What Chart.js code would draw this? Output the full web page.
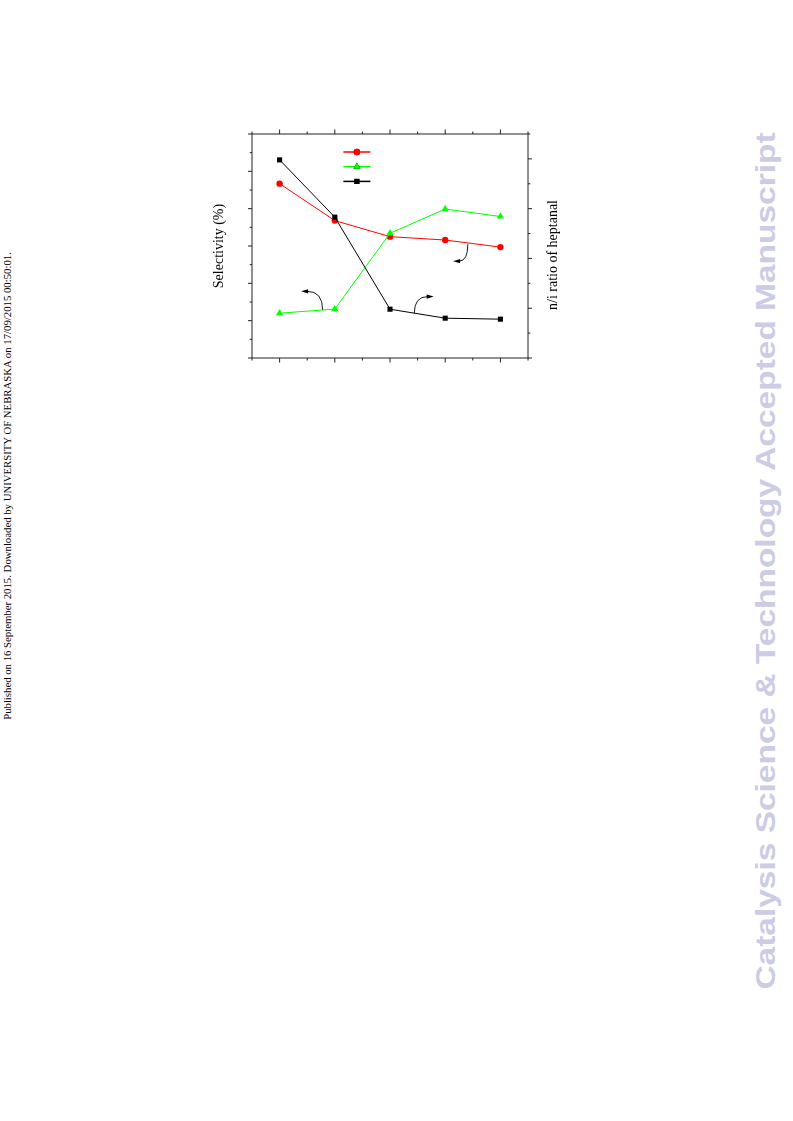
<!DOCTYPE html>
<html>
<head>
<meta charset="utf-8">
<script src="https://cdn.jsdelivr.net/npm/chart.js@4/dist/chart.umd.min.js"></script>
<style>
  body { margin: 0; width: 793px; height: 1121px; background: #fff; position: relative; overflow: hidden; }
  #wrap { position: absolute; left: 200px; top: 100px; width: 400px; height: 300px; }
  .side { position: absolute; white-space: nowrap; transform-origin: center center; }
  #pub { font-family: "Liberation Serif", serif; font-size: 11px; color: #000; }
  #mark { font-family: "Liberation Sans", Arial, sans-serif; font-weight: bold; font-size: 28px; color: rgb(204,204,228); }
</style>
</head>
<body>
<div id="pub" class="side">Published on 16 September 2015. Downloaded by UNIVERSITY OF NEBRASKA on 17/09/2015 00:50:01.</div>
<div id="mark" class="side">Catalysis Science &amp; Technology Accepted Manuscript</div>
<div id="wrap"><canvas id="chart" width="400" height="300"></canvas></div>
<script>
// data (no tick labels are printed in the original)
const categories = ['1', '2', '3', '4', '5'];
const redSelectivity = [46.7, 36.8, 32.5, 31.6, 29.7];
const greenSelectivity = [12.0, 13.1, 33.4, 39.9, 37.9];
const niRatio = [4.98, 3.83, 1.98, 1.80, 1.78];

// axis ranges
const leftRange = { min: 0, max: 60, step: 5, major: 10 };
const rightRange = { min: 1, max: 5.5, step: 0.5, major: 1 };

// curved arrows pointing at the axis a series belongs to (anchored in data space)
const arrows = [
  { scale: 'y', x: 0.78, y: 12.9, dx: -19.5, dy: -18.5 },
  { scale: 'y', x: 3.41, y: 30.5, dx: -12.7, dy: 17 },
  { scale: 'y1', x: 2.44, y: 1.90, dx: 17.4, dy: -16.6 }
];

function placeSide(id, cx, cy, scaleX) {
  const el = document.getElementById(id);
  const w = el.offsetWidth, h = el.offsetHeight;
  el.style.left = (cx - w / 2) + 'px';
  el.style.top = (cy - h / 2) + 'px';
  el.style.transform = 'rotate(-90deg) scaleX(' + scaleX + ')';
}
placeSide('pub', 7, 486, 0.977);
placeSide('mark', 765, 561, 1.195);

const framePlugin = {
  id: 'frame',
  afterDraw(chart) {
    const { ctx, chartArea: a, scales } = chart;
    ctx.save();
    ctx.strokeStyle = '#222';
    ctx.lineWidth = 1;
    ctx.strokeRect(a.left, a.top, a.right - a.left, a.bottom - a.top);

    ctx.beginPath();
    // x ticks, bottom and top, pointing out
    for (let v = -0.5; v <= categories.length - 0.5 + 1e-9; v += 0.5) {
      const px = scales.x.getPixelForValue(v);
      const len = Number.isInteger(v) ? 4.5 : 2.5;
      ctx.moveTo(px, a.bottom); ctx.lineTo(px, a.bottom + len);
      ctx.moveTo(px, a.top); ctx.lineTo(px, a.top - len);
    }
    for (let v = leftRange.min; v <= leftRange.max + 1e-9; v += leftRange.step) {
      const py = scales.y.getPixelForValue(v);
      const len = v % leftRange.major === 0 ? 4 : 2.3;
      ctx.moveTo(a.left, py); ctx.lineTo(a.left - len, py);
    }
    for (let v = rightRange.min; v <= rightRange.max + 1e-9; v += rightRange.step) {
      const py = scales.y1.getPixelForValue(v);
      const len = Number.isInteger(v) ? 4 : 2.3;
      ctx.moveTo(a.right, py); ctx.lineTo(a.right + len, py);
    }
    ctx.stroke();

    // right axis title, reading bottom to top
    ctx.fillStyle = '#000';
    ctx.font = '14px "Liberation Serif"';
    ctx.textAlign = 'center';
    ctx.textBaseline = 'middle';
    ctx.translate(a.right + 25, (a.top + a.bottom) / 2 + 9);
    ctx.rotate(-Math.PI / 2);
    ctx.fillText('n/i ratio of heptanal', 0, 0);
    ctx.restore();

    // arrows
    ctx.save();
    ctx.strokeStyle = '#000';
    ctx.fillStyle = '#000';
    ctx.lineWidth = 0.9;
    arrows.forEach(ar => {
      const sx = scales.x.getPixelForValue(ar.x);
      const sy = scales[ar.scale].getPixelForValue(ar.y);
      const ex = sx + ar.dx, ey = sy + ar.dy;
      const dir = Math.sign(ar.dx);
      ctx.beginPath();
      ctx.moveTo(sx, sy);
      ctx.quadraticCurveTo(sx, ey, ex - dir * 4, ey);
      ctx.stroke();
      ctx.beginPath();
      ctx.moveTo(ex + dir * 2, ey);
      ctx.lineTo(ex - dir * 5, ey - 2.2);
      ctx.lineTo(ex - dir * 5, ey + 2.2);
      ctx.closePath();
      ctx.fill();
    });
    ctx.restore();

    // legend samples (no text in the original)
    const legend = [
      { color: '#ff0000', style: 'circle', r: 3.2 },
      { color: '#00ff00', style: 'triangle', r: 4.2 },
      { color: '#000000', style: 'rect', r: 3.6 }
    ];
    const lx = scales.x.getPixelForValue(1.4);
    legend.forEach((it, i) => {
      const ly = a.top + 18 + i * 14.7;
      ctx.save();
      ctx.strokeStyle = it.color;
      ctx.lineWidth = 1.5;
      ctx.beginPath();
      ctx.moveTo(lx - 13.5, ly); ctx.lineTo(lx + 13.5, ly);
      ctx.stroke();
      Chart.helpers.drawPoint(ctx, { pointStyle: it.style, radius: it.r, borderWidth: 0 }, lx, ly);
      ctx.fillStyle = it.color;
      ctx.fill();
      ctx.restore();
    });
  }
};

const ctx = document.getElementById('chart').getContext('2d');
new Chart(ctx, {
  type: 'line',
  data: {
    labels: categories,
    datasets: [
      {
        label: 'n/i',
        data: niRatio,
        yAxisID: 'y1',
        borderColor: '#000',
        backgroundColor: '#000',
        borderWidth: 1,
        pointStyle: 'rect',
        pointRadius: 3.6,
        pointBorderWidth: 0
      },
      {
        label: 'green',
        data: greenSelectivity,
        yAxisID: 'y',
        borderColor: '#00ff00',
        backgroundColor: '#00ff00',
        borderWidth: 1,
        pointStyle: 'triangle',
        pointRadius: 4.2,
        pointBorderWidth: 0
      },
      {
        label: 'red',
        data: redSelectivity,
        yAxisID: 'y',
        borderColor: '#ff0000',
        backgroundColor: '#ff0000',
        borderWidth: 1,
        pointStyle: 'circle',
        pointRadius: 3.2,
        pointBorderWidth: 0
      }
    ]
  },
  options: {
    responsive: false,
    animation: false,
    layout: { padding: { top: 34, left: 0, right: 0, bottom: 0 } },
    plugins: { legend: { display: false }, tooltip: { enabled: false } },
    scales: {
      x: {
        type: 'category',
        offset: true,
        ticks: { display: false },
        grid: { display: false },
        border: { display: false },
        afterFit: s => { s.height = 42; }
      },
      y: {
        position: 'left',
        min: leftRange.min,
        max: leftRange.max,
        ticks: { display: false, stepSize: leftRange.step },
        grid: { display: false },
        border: { display: false },
        title: {
          display: true,
          text: 'Selectivity (%)',
          color: '#000',
          font: { family: 'Liberation Serif', size: 14 },
          padding: { top: 11, bottom: 0 }
        },
        afterFit: s => { s.width = 52; }
      },
      y1: {
        position: 'right',
        min: rightRange.min,
        max: rightRange.max,
        ticks: { display: false, stepSize: rightRange.step },
        grid: { display: false },
        border: { display: false },
        afterFit: s => { s.width = 72; }
      }
    }
  },
  plugins: [framePlugin]
});
</script>
</body>
</html>
